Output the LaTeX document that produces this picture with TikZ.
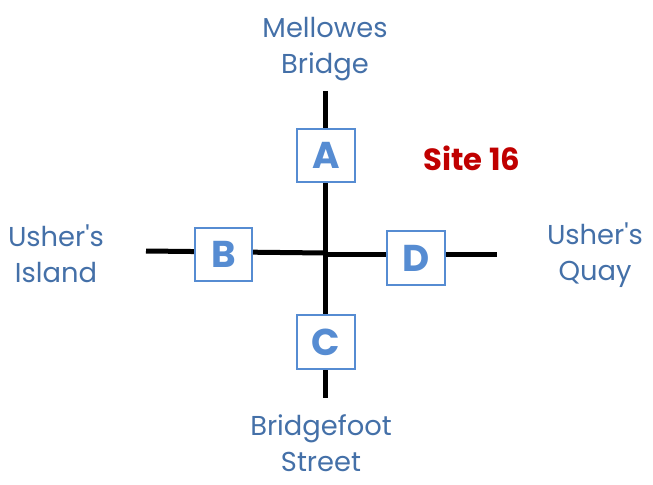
\documentclass[tikz,border=0pt]{standalone}
\usepackage{fontspec}
\setmainfont{Poppins}
\definecolor{labelblue}{RGB}{68,112,168}
\definecolor{boxblue}{RGB}{86,140,210}
\definecolor{sitered}{RGB}{192,0,0}
\begin{document}
\begin{tikzpicture}[x=0.75pt,y=-0.75pt,
  road/.style={line width=3.75pt,black},
  gate/.style={draw=boxblue,line width=1.5pt,fill=white,minimum width=43pt,minimum height=40pt,inner sep=0pt,
    text=boxblue,font=\fontsize{28}{30}\selectfont\bfseries},
  place/.style={align=center,text=labelblue,font=\fontsize{20.5}{27}\selectfont},
  sitelabel/.style={text=sitered,font=\fontsize{23}{25}\selectfont\bfseries}]
\useasboundingbox (0,0) rectangle (653,485);
\coordinate (top) at (325,91);
\coordinate (bot) at (325,398);
\coordinate (lft) at (146,251);
\coordinate (ctr) at (325,253);
\coordinate (rgt) at (497,254);
\draw[road] (top) -- (bot);
\draw[road] (lft) -- (ctr);
\draw[road] (325,254) -- (rgt);
\node[gate] (A) at (326,155.5) {A};
\node[gate] (B) at (223.5,254.5) {B};
\node[gate] (C) at (326,342) {C};
\node[gate] (D) at (416,258) {D};
\node[place] (mellowes) at (325,49.5) {Mellowes\\Bridge};
\node[place] (island) at (56,254) {Usher\textquotesingle s\\Island};
\node[place] (quay) at (595,255) {Usher\textquotesingle s\\Quay};
\node[place] (bridgefoot) at (321,443) {Bridgefoot\\Street};
\node[sitelabel] (site) at (472,158) {Site 16};
\end{tikzpicture}
\end{document}
